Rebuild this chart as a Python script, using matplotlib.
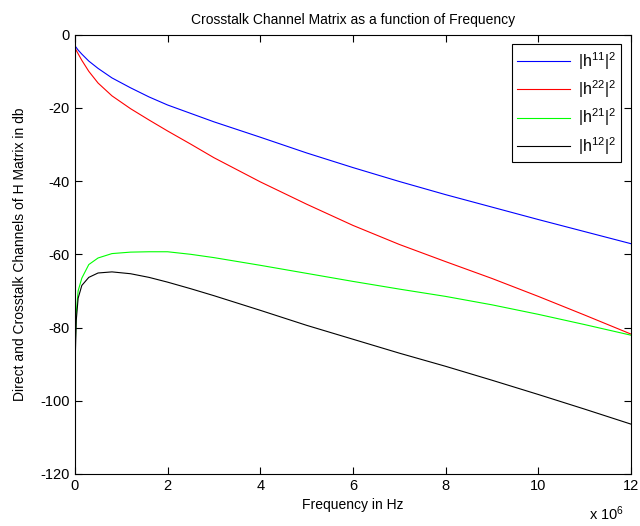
import matplotlib
matplotlib.use('Agg')
import matplotlib.pyplot as plt
from matplotlib.ticker import FuncFormatter

plt.rcParams['font.family'] = ['Liberation Sans', 'DejaVu Sans']
plt.rcParams['mathtext.default'] = 'regular'
plt.rcParams['axes.unicode_minus'] = False

# frequency points (MHz) and channel gains in dB
freq_mhz = [0, 0.03, 0.07, 0.15, 0.3, 0.5, 0.8, 1.2, 1.6, 2, 2.5, 3, 4, 5, 6, 7, 8, 9, 10, 11, 12]
h11 = [-3.0, -3.5, -4.2, -5.3, -7.2, -9.2, -11.8, -14.5, -17.0, -19.2, -21.5, -23.8, -28.0,
       -32.3, -36.3, -40.1, -43.7, -47.1, -50.5, -53.8, -57.1]
h22 = [-3.5, -4.3, -5.2, -7.0, -10.0, -13.2, -16.7, -20.2, -23.3, -26.3, -29.9, -33.6, -40.2,
       -46.3, -52.1, -57.3, -62.0, -66.6, -71.5, -76.6, -81.8]
h21 = [-88.0, -76.0, -70.0, -66.5, -62.8, -61.0, -59.8, -59.4, -59.3, -59.3, -60.0, -60.9, -63.0,
       -65.2, -67.4, -69.5, -71.5, -73.8, -76.4, -79.2, -82.1]
h12 = [-92.0, -78.0, -72.0, -68.5, -66.3, -65.1, -64.8, -65.3, -66.3, -67.6, -69.4, -71.3, -75.3,
       -79.4, -83.2, -87.0, -90.6, -94.4, -98.3, -102.3, -106.4]

freq = [f * 1e6 for f in freq_mhz]

fig = plt.figure(figsize=(6.4, 5.26), dpi=100)
ax = fig.add_axes([0.117, 0.099, 0.869, 0.835])

ax.plot(freq, h11, color='#0000ff', lw=0.8, label='|h$^{11}$|$^{2}$')
ax.plot(freq, h22, color='#ff0000', lw=0.8, label='|h$^{22}$|$^{2}$')
ax.plot(freq, h21, color='#00ff00', lw=0.8, label='|h$^{21}$|$^{2}$')
ax.plot(freq, h12, color='#000000', lw=0.8, label='|h$^{12}$|$^{2}$')

ax.set_xlim(0, 12e6)
ax.set_ylim(-120, 0)
ax.set_xticks([0, 2e6, 4e6, 6e6, 8e6, 10e6, 12e6])
ax.set_yticks(range(-120, 1, 20))
ax.xaxis.set_major_formatter(FuncFormatter(lambda v, p: '%g' % (v / 1e6)))
ax.tick_params(direction='in', top=True, right=True, length=5, labelsize=10.5)
for s in ax.spines.values():
    s.set_linewidth(0.8)

ax.set_title('Crosstalk Channel Matrix as a function of Frequency', fontsize=10, pad=8)
ax.set_xlabel('Frequency in Hz', fontsize=10, labelpad=4)
ax.set_ylabel('Direct and Crosstalk Channels of H Matrix in db', fontsize=10, labelpad=10)
fig.text(0.92, 0.012, 'x 10$^{6}$', fontsize=10.5)

leg = ax.legend(loc='upper right', fontsize=11.5, handlelength=3.3, handletextpad=0.5,
                fancybox=False, edgecolor='black', framealpha=1, borderpad=0.35,
                labelspacing=0.42, borderaxespad=0.6)
leg.get_frame().set_linewidth(0.8)

fig.savefig('out.png', dpi=100)
